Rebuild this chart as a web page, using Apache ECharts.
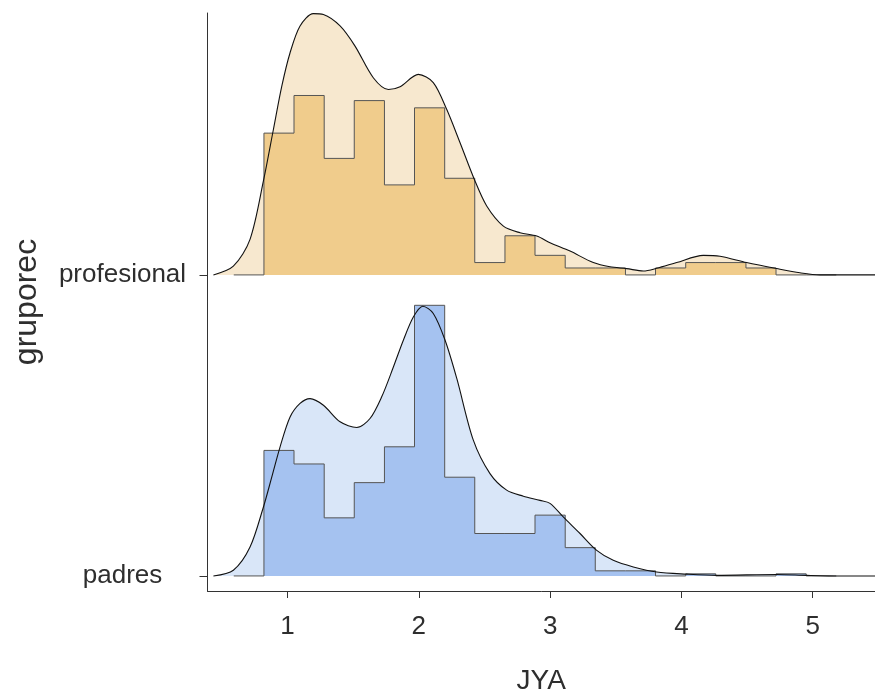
<!DOCTYPE html>
<html>
<head>
<meta charset="utf-8">
<script src="https://cdn.jsdelivr.net/npm/echarts@6/dist/echarts.min.js"></script>
<style>html,body{margin:0;padding:0;background:#fff}#c{width:875px;height:693px}</style>
</head>
<body>
<div id="c"></div>
<script>
// ---- data ----
const groups = ['padres', 'profesional'];          // y categories (1 = padres, 2 = profesional)
const xTicks = [1, 2, 3, 4, 5];
const binEdges = [0.59, 0.82, 1.049, 1.279, 1.508, 1.738, 1.967, 2.197, 2.426, 2.656, 2.885,
                  3.115, 3.344, 3.574, 3.803, 4.033, 4.262, 4.492, 4.721, 4.951, 5.18];
// histogram heights (in ridge-spacing units)
const profHist = [0, 0.471, 0.596, 0.387, 0.579, 0.299, 0.555, 0.321, 0.041, 0.130,
                  0.065, 0.023, 0.023, 0, 0.023, 0.041, 0.041, 0.023, 0, 0];
const padresHist = [0, 0.417, 0.372, 0.193, 0.310, 0.429, 0.899, 0.328, 0.141, 0.141,
                    0.202, 0.094, 0.017, 0.017, 0, 0.007, 0, 0, 0.007, 0];
// density curves: x values and heights
const profDensX = [0.435, 0.587, 0.714, 0.816, 0.892, 0.956, 1.019, 1.095, 1.196, 1.273, 1.400,
                   1.514, 1.653, 1.768, 1.857, 1.996, 2.110, 2.212, 2.314, 2.423, 2.517, 2.644,
                   2.771, 2.898, 2.999, 3.152, 3.329, 3.456, 3.583, 3.710, 3.812, 3.964, 4.167,
                   4.294, 4.497, 4.726, 4.903, 5.056, 5.475];
const profDensY = [0, 0.029, 0.118, 0.312, 0.483, 0.627, 0.738, 0.827, 0.868, 0.865, 0.827,
                   0.760, 0.655, 0.616, 0.625, 0.666, 0.639, 0.550, 0.439, 0.317, 0.229, 0.162,
                   0.140, 0.129, 0.107, 0.079, 0.041, 0.027, 0.021, 0.013, 0.022, 0.041, 0.065,
                   0.062, 0.041, 0.021, 0.007, 0, 0];
const padresDensX = [0.435, 0.587, 0.714, 0.816, 0.880, 0.943, 1.019, 1.095, 1.171, 1.273, 1.400,
                     1.527, 1.628, 1.717, 1.806, 1.882, 1.958, 2.030, 2.110, 2.200, 2.289, 2.415,
                     2.542, 2.669, 2.796, 2.923, 2.999, 3.100, 3.228, 3.355, 3.481, 3.634, 3.812,
                     4.040, 4.269, 4.726, 4.954, 5.208, 5.475];
const padresDensY = [0, 0.019, 0.096, 0.229, 0.329, 0.429, 0.528, 0.573, 0.589, 0.567, 0.512,
                     0.493, 0.523, 0.595, 0.694, 0.783, 0.860, 0.896, 0.872, 0.783, 0.656, 0.451,
                     0.340, 0.285, 0.265, 0.251, 0.241, 0.196, 0.141, 0.085, 0.052, 0.030, 0.013,
                     0.006, 0.002, 0.005, 0.002, 0, 0];

// ---- build ----
function histPts(base, h) {
  const pts = [[binEdges[0], base]];
  for (let i = 0; i < h.length; i++) {
    pts.push([binEdges[i], base + h[i]]);
    pts.push([binEdges[i + 1], base + h[i]]);
  }
  pts.push([binEdges[h.length], base]);
  return pts;
}
function densPts(base, xs, ys) { return xs.map((x, i) => [x, base + ys[i]]); }

function ridge(base, xs, ys, hist, light, dark) {
  const dens = densPts(base, xs, ys);
  return [
    { type: 'line', data: dens, smooth: 0.3, showSymbol: false, lineStyle: { width: 0 },
      areaStyle: { color: light, opacity: 1, origin: base }, z: 1 },
    { type: 'line', data: histPts(base, hist), showSymbol: false,
      lineStyle: { color: '#555', width: 1 },
      areaStyle: { color: dark, opacity: 1, origin: base }, z: 2 },
    { type: 'line', data: dens, smooth: 0.3, showSymbol: false,
      lineStyle: { color: '#111', width: 1.1 }, z: 3 }
  ];
}

const series = [].concat(
  ridge(1, padresDensX, padresDensY, padresHist, '#D9E6F8', '#A5C2F0'),
  ridge(2, profDensX, profDensY, profHist, '#F7E8CF', '#F0CC8C')
);

const font = 'Liberation Sans, Arial, sans-serif';
const chart = echarts.init(document.getElementById('c'), null, { renderer: 'canvas' });
chart.setOption({
  animation: false,
  grid: { left: 207.5, right: 0, top: 13, bottom: 102, containLabel: false, outerBoundsMode: 'none' },
  xAxis: {
    type: 'value', min: 0.39, max: 5.475,
    name: 'JYA', nameLocation: 'middle', nameGap: 76,
    nameTextStyle: { fontFamily: font, fontSize: 28, color: '#2e2e2e' },
    axisLine: { show: true, onZero: false, lineStyle: { color: '#333', width: 1 } },
    axisTick: { show: true, customValues: xTicks, length: 7, lineStyle: { color: '#333' } },
    axisLabel: { customValues: xTicks, fontFamily: font, fontSize: 26, color: '#2e2e2e', margin: 23 },
    splitLine: { show: false }
  },
  yAxis: {
    type: 'value', min: 0.95, max: 2.87,
    name: 'gruporec', nameLocation: 'middle', nameGap: 164, nameRotate: 90,
    nameTextStyle: { fontFamily: font, fontSize: 32, color: '#2e2e2e' },
    axisLine: { show: true, onZero: false, lineStyle: { color: '#333', width: 1 } },
    axisTick: { show: true, customValues: [1, 2], length: 8, lineStyle: { color: '#333' } },
    axisLabel: { customValues: [1, 2], fontFamily: font, fontSize: 26, color: '#2e2e2e', margin: 85,
      align: 'center', padding: [6, 0, 0, 0], formatter: v => groups[Math.round(v) - 1] },
    splitLine: { show: false }
  },
  series: series
});
</script>
</body>
</html>
